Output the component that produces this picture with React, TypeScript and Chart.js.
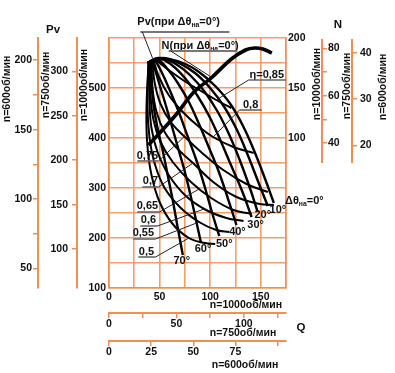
import React, { useEffect, useRef } from 'react';
import { Chart, registerables } from 'chart.js';
Chart.register(...registerables);

const FONT = "'Liberation Sans', Arial, Helvetica, sans-serif";
const ORANGE = '#f58d52';
const GRID = '#f79d68';
const INK = '#111111';

// speed ratios (n / 1000)
const K750 = 0.75;
const K600 = 0.6;

// axis ticks
const Q_TICKS = [0, 25, 50, 75, 100, 125, 150, 175];
const Q_LABELS = [0, 50, 100, 150];
const Q750_TICKS = [0, 25, 50, 75, 100, 125];
const Q750_LABELS = [0, 50, 100];
const Q600_TICKS = [0, 25, 50, 75, 100];
const Q600_LABELS = [0, 25, 50, 75];
const PV_TICKS = [100, 150, 200, 250, 300, 350, 400, 450, 500, 550, 600];
const PV_LABELS = [100, 200, 300, 400, 500];
const PV750_TICKS = [100, 150, 200, 250, 300];
const PV600_TICKS = [50, 75, 100, 125, 150, 175, 200];
const PV600_LABELS = [50, 100, 150, 200];
const N_TICKS = [100, 150, 200];
const N750_TICKS = [40, 50, 60, 70, 80];
const N750_LABELS = [40, 60, 80];
const N600_TICKS = [20, 30, 40];

// Pv curves (n=1000) for guide-vane angles
const ANGLES = [0, 10, 20, 30, 40, 50, 60, 70];
const PV_Q_0 = [38, 55, 73, 89, 105, 120, 133, 144, 154, 163];
const PV_0 = [550, 558, 550, 532, 504, 468, 422, 372, 320, 270];
const PV_Q_10 = [38, 53, 69, 85, 100, 114, 127, 138, 148, 157];
const PV_10 = [550, 560, 550, 530, 500, 462, 414, 362, 310, 264];
const PV_Q_20 = [38, 51, 66, 80, 94, 107, 119, 130, 140, 147];
const PV_20 = [550, 560, 548, 526, 494, 454, 406, 352, 296, 252];
const PV_Q_30 = [38, 49, 62, 75, 87, 99, 110, 121, 132, 141];
const PV_30 = [550, 560, 546, 520, 486, 444, 396, 344, 292, 242];
const PV_Q_40 = [38, 47, 57, 68, 79, 89, 99, 109, 118, 126];
const PV_40 = [550, 558, 540, 510, 472, 428, 380, 330, 276, 226];
const PV_Q_50 = [45, 52, 60, 69, 78, 87, 95, 102, 109];
const PV_50 = [558, 532, 496, 452, 402, 352, 300, 250, 204];
const PV_Q_60 = [43, 48, 54, 61, 68, 75, 81, 86, 91];
const PV_60 = [556, 520, 480, 432, 382, 332, 282, 236, 190];
const PV_Q_70 = [41, 42, 44, 48, 53, 58, 63, 68, 73];
const PV_70 = [556, 512, 466, 420, 376, 326, 276, 220, 166];

// efficiency lines
const ETA_Q_85 = [45, 59, 76, 91, 106, 121];
const ETA_PV_85 = [558, 536, 512, 494, 476, 460];
const ETA_Q_80 = [44, 49, 59, 73, 88, 103, 123, 143];
const ETA_PV_80 = [556, 524, 486, 452, 424, 402, 382, 370];
const ETA_Q_75 = [43, 45, 51, 61, 74, 91, 113, 136, 157];
const ETA_PV_75 = [556, 512, 468, 432, 404, 372, 336, 308, 292];
const ETA_Q_70 = [42, 43, 47, 55, 67, 83, 103, 126, 149, 163];
const ETA_PV_70 = [554, 500, 452, 412, 380, 350, 312, 282, 268, 266];
const ETA_Q_65 = [41, 41, 44, 51, 63, 81, 101, 123, 141];
const ETA_PV_65 = [554, 488, 436, 392, 352, 312, 280, 256, 248];
const ETA_Q_60 = [40, 40, 42, 48, 59, 76, 96, 116, 133];
const ETA_PV_60 = [552, 476, 420, 372, 326, 284, 256, 240, 234];
const ETA_Q_55 = [39, 38, 40, 45, 55, 71, 89, 106, 119];
const ETA_PV_55 = [550, 464, 402, 350, 300, 260, 232, 216, 212];
const ETA_Q_50 = [39, 37, 38, 42, 50, 63, 79, 95, 105];
const ETA_PV_50 = [548, 452, 384, 326, 272, 228, 200, 190, 188];

// power curve N (n=1000, Δθ=0°)
const N_Q = [39, 51, 66, 84, 101, 121, 135, 144, 152, 161];
const N_VAL = [93, 106, 123, 146, 160, 179, 188, 190, 189, 185];

// annotations (anchors in Q / Pv units)
const ETA_NOTES = [
  { t: '0,75', q: 38, pv: 364, u: [28, 49, 354], to: [74, 402], from: 'r' },
  { t: '0,7', q: 41, pv: 314, u: [33, 49, 302], to: [83, 350], from: 'r' },
  { t: '0,65', q: 38, pv: 264, u: [28, 50, 252], to: [89, 298], from: 'r' },
  { t: '0,6', q: 39, pv: 236, u: [31, 48, 224], to: [94, 258], from: 'r' },
  { t: '0,55', q: 34, pv: 210, u: [24, 46, 198], to: [89, 232], from: 'r' },
  { t: '0,5', q: 37, pv: 172, u: [29, 46, 162], to: [79, 200], from: 'r' },
  { t: '0,8', q: 140, pv: 466, u: [129, 151, 456], to: [103, 402], from: 'l' },
  { t: 'η=0,85', q: 156, pv: 526, u: [138, 175, 516], to: [106, 476], from: 'l' },
];
const ANGLE_NOTES = [
  { t: '70°', q: 72, pv: 154 },
  { t: '60°', q: 93, pv: 178 },
  { t: '50°', q: 114, pv: 188 },
  { t: '40°', q: 127, pv: 212 },
  { t: '30°', q: 145, pv: 226 },
  { t: '20°', q: 152, pv: 246 },
  { t: '10°', q: 167, pv: 256 },
];

const zip = (xs: number[], ys: number[]) => xs.map((v, i) => ({ x: v, y: ys[i] }));

const PV_SERIES = [
  zip(PV_Q_0, PV_0), zip(PV_Q_10, PV_10), zip(PV_Q_20, PV_20), zip(PV_Q_30, PV_30),
  zip(PV_Q_40, PV_40), zip(PV_Q_50, PV_50), zip(PV_Q_60, PV_60), zip(PV_Q_70, PV_70),
];
const ETA_SERIES = [
  zip(ETA_Q_85, ETA_PV_85), zip(ETA_Q_80, ETA_PV_80), zip(ETA_Q_75, ETA_PV_75),
  zip(ETA_Q_70, ETA_PV_70), zip(ETA_Q_65, ETA_PV_65), zip(ETA_Q_60, ETA_PV_60),
  zip(ETA_Q_55, ETA_PV_55), zip(ETA_Q_50, ETA_PV_50),
];

const tickFont = { family: FONT, size: 10.5, weight: 'bold' as const };

function axis(position: string, weight: number, min: number, max: number, ticks: number[], labels: number[], size: number, opts: any = {}) {
  const horizontal = position === 'bottom';
  return {
    type: 'linear',
    position,
    weight,
    min,
    max,
    afterBuildTicks: (s: any) => { s.ticks = ticks.map((v) => ({ value: v })); },
    afterFit: (s: any) => { if (horizontal) s.height = size; else s.width = size; },
    ticks: {
      autoSkip: false,
      maxRotation: 0,
      color: INK,
      font: tickFont,
      padding: opts.padding ?? 2,
      callback: (v: number) => (labels.includes(v) ? String(v) : ''),
    },
    grid: {
      display: true,
      drawOnChartArea: !!opts.onArea,
      drawTicks: !!opts.tickMarks,
      tickLength: 5,
      color: opts.onArea ? GRID : ORANGE,
      lineWidth: opts.onArea ? 1.6 : 1.5,
    },
    border: { display: opts.border !== false, color: ORANGE, width: opts.borderWidth ?? 1.6 },
  };
}

function drawParts(ctx: CanvasRenderingContext2D, parts: { t: string; sub?: boolean }[], x: number, y: number, size: number) {
  let cx = x;
  for (const p of parts) {
    if (p.sub) {
      ctx.font = `bold ${size * 0.62}px ${FONT}`;
      ctx.fillText(p.t, cx, y + 3);
    } else {
      ctx.font = `bold ${size}px ${FONT}`;
      ctx.fillText(p.t, cx, y);
    }
    cx += ctx.measureText(p.t).width;
  }
}

const annotations = {
  id: 'annotations',
  afterDraw(chart: any) {
    const { ctx } = chart;
    const { x, y, n, n750, n600 } = chart.scales;
    const X = (q: number) => x.getPixelForValue(q);
    const Y = (p: number) => y.getPixelForValue(p);
    ctx.save();

    // partial N axes (n=750 / n=600)
    ctx.strokeStyle = ORANGE;
    ctx.lineWidth = 2;
    for (const s of [n750, n600]) {
      ctx.beginPath();
      ctx.moveTo(s.left, n.getPixelForValue(199));
      ctx.lineTo(s.left, n.getPixelForValue(75));
      ctx.stroke();
    }

    ctx.fillStyle = INK;
    ctx.textBaseline = 'middle';

    // vertical axis titles
    const vt: [string, number, number][] = [
      ['n=600об/мин', 7, 89], ['n=750об/мин', 46, 85], ['n=1000об/мин', 84, 85],
      ['n=1000об/мин', 317, 84], ['n=750об/мин', 347, 86], ['n=600об/мин', 383, 87],
    ];
    ctx.font = `bold 10.5px ${FONT}`;
    ctx.textAlign = 'center';
    for (const [t, tx, ty] of vt) {
      ctx.save();
      ctx.translate(tx, ty);
      ctx.rotate(-Math.PI / 2);
      ctx.fillText(t, 0, 0);
      ctx.restore();
    }
    // bottom titles
    ctx.fillText('n=1000об/мин', 246, 305);
    ctx.fillText('n=750об/мин', 243, 333);
    ctx.fillText('n=600об/мин', 245, 365);
    ctx.font = `bold 11.5px ${FONT}`;
    ctx.fillText('Pv', 53, 30);
    ctx.fillText('N', 338, 25);
    ctx.fillText('Q', 301, 328);

    // curve titles with leaders
    ctx.textAlign = 'left';
    drawParts(ctx, [{ t: 'Pv(при Δθ' }, { t: 'на', sub: true }, { t: '=0°)' }], X(28), Y(632), 11);
    drawParts(ctx, [{ t: 'N(при Δθ' }, { t: 'на', sub: true }, { t: '=0°)' }], X(52), Y(584), 11);
    drawParts(ctx, [{ t: 'Δθ' }, { t: 'на', sub: true }, { t: '=0°' }], X(174), Y(274), 11);

    const line = (a: number[], b: number[], w: number, c: string) => {
      ctx.strokeStyle = c;
      ctx.lineWidth = w;
      ctx.beginPath();
      ctx.moveTo(X(a[0]), Y(a[1]));
      ctx.lineTo(X(b[0]), Y(b[1]));
      ctx.stroke();
    };
    line([31, 612], [119, 612], 2, '#777');
    line([33, 612], [43, 560], 1, '#222');
    line([59, 574], [127, 574], 2, '#777');
    line([61, 574], [101, 522], 1, '#222');

    ctx.font = `bold 11px ${FONT}`;
    ctx.textAlign = 'center';
    for (const e of ETA_NOTES) {
      ctx.fillStyle = INK;
      ctx.fillText(e.t, X(e.q), Y(e.pv));
      line([e.u[0], e.u[2]], [e.u[1], e.u[2]], 1.6, '#666');
      const start = e.from === 'r' ? [e.u[1], e.u[2]] : [e.u[0], e.u[2]];
      line(start, e.to, 1, '#222');
    }
    ctx.fillStyle = INK;
    for (const a of ANGLE_NOTES) ctx.fillText(a.t, X(a.q), Y(a.pv));
    ctx.restore();
  },
};

export default function App() {
  const ref = useRef<HTMLCanvasElement | null>(null);
  useEffect(() => {
    if (!ref.current) return;
    const datasets: any[] = [];
    PV_SERIES.forEach((d, i) => datasets.push({
      label: `Pv ${ANGLES[i]}°`, data: d, xAxisID: 'x', yAxisID: 'y',
      borderColor: '#000', borderWidth: 2.4, pointRadius: 0, tension: 0.4, fill: false,
    }));
    ETA_SERIES.forEach((d, i) => datasets.push({
      label: `eta ${i}`, data: d, xAxisID: 'x', yAxisID: 'y',
      borderColor: '#000', borderWidth: 2.0, pointRadius: 0, tension: 0.4, fill: false,
    }));
    datasets.push({
      label: 'N', data: zip(N_Q, N_VAL), xAxisID: 'x', yAxisID: 'n',
      borderColor: '#000', borderWidth: 3.6, pointRadius: 0, tension: 0.4, fill: false,
    });

    const chart = new Chart(ref.current, {
      type: 'line',
      data: { datasets },
      options: {
        animation: false,
        responsive: false,
        devicePixelRatio: 1,
        parsing: true,
        layout: { padding: { top: 38, left: 0, right: 0, bottom: 0 } },
        plugins: { legend: { display: false }, tooltip: { enabled: false } },
        scales: {
          x: axis('bottom', 0, 0, 175, Q_TICKS, Q_LABELS, 25, { onArea: true, padding: 3 }),
          q750: axis('bottom', 1, 0, 175 * K750, Q750_TICKS, Q750_LABELS, 28, { tickMarks: true, padding: 0, borderWidth: 2 }),
          q600: axis('bottom', 2, 0, 175 * K600, Q600_TICKS, Q600_LABELS, 32, { tickMarks: true, padding: 0, borderWidth: 2 }),
          y: axis('left', 0, 100, 600, PV_TICKS, PV_LABELS, 32, { onArea: true, padding: 3 }),
          p750: axis('left', 1, 100 * K750 * K750, 600 * K750 * K750, PV750_TICKS, PV750_TICKS, 39, { tickMarks: true, padding: 4, borderWidth: 2 }),
          p600: axis('left', 2, 100 * K600 * K600, 600 * K600 * K600, PV600_TICKS, PV600_LABELS, 38, { tickMarks: true, padding: 1, borderWidth: 2 }),
          n: axis('right', 0, -50, 200, N_TICKS, N_TICKS, 36, { padding: 2 }),
          n750: axis('right', 1, -50 * K750 ** 3, 200 * K750 ** 3, N750_TICKS, N750_LABELS, 30, { tickMarks: true, padding: 1, border: false }),
          n600: axis('right', 2, -50 * K600 ** 3, 200 * K600 ** 3, N600_TICKS, N600_TICKS, 43, { tickMarks: true, padding: 3, border: false }),
        } as any,
      },
      plugins: [annotations],
    });
    return () => chart.destroy();
  }, []);
  return (
    <div style={{ position: 'absolute', left: 0, top: 0, width: 395, height: 373, background: '#fff' }}>
      <canvas ref={ref} width={395} height={373} style={{ width: 395, height: 373, display: 'block' }} />
    </div>
  );
}
